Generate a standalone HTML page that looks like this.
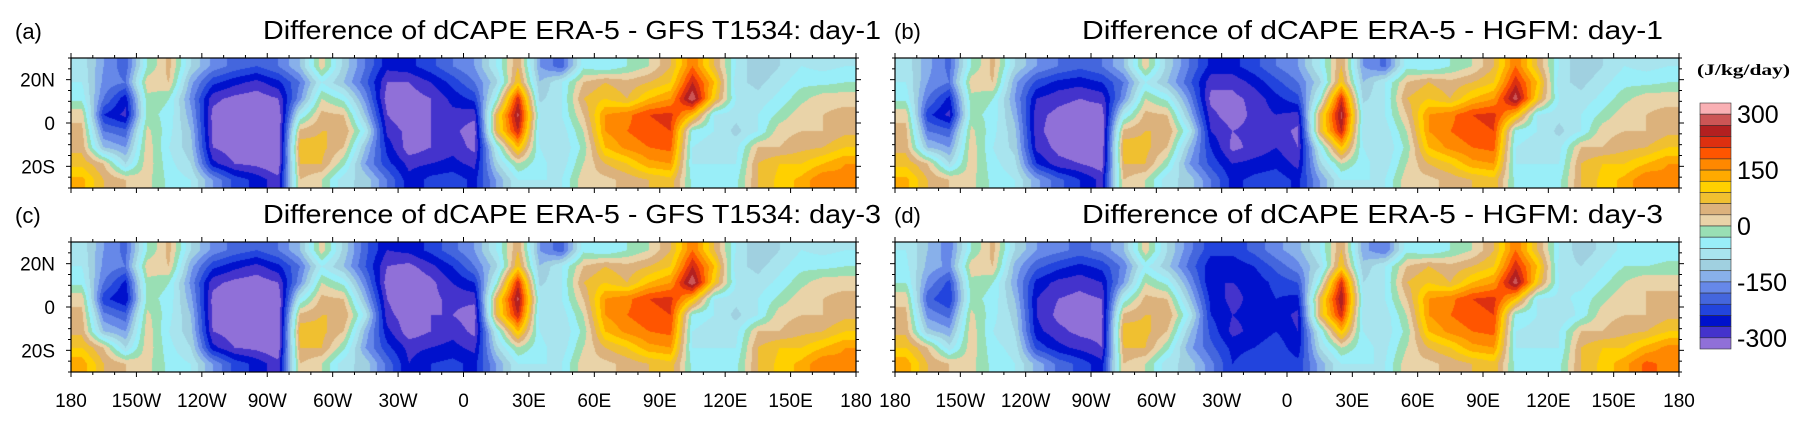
<!DOCTYPE html>
<html><head><meta charset="utf-8">
<style>
html,body{margin:0;padding:0;background:#fff;}
#root{position:relative;width:1811px;height:426px;overflow:hidden;font-family:"Liberation Sans",Arial,sans-serif;}
canvas{position:absolute;}
svg{position:absolute;left:0;top:0;}
</style></head>
<body>
<div id="root">
<canvas id="cA" width="785" height="130" style="left:71px;top:58px"></canvas>
<canvas id="cB" width="784" height="130" style="left:895px;top:58px"></canvas>
<canvas id="cC" width="785" height="130" style="left:71px;top:242px"></canvas>
<canvas id="cD" width="784" height="130" style="left:895px;top:242px"></canvas>
<svg id="ov" width="1811" height="426"></svg>
</div>
<script>
// colour levels (J/kg/day), from top (330) to bottom (-330) in 30 steps
const levelColors=["#f9b0b4","#cc5555","#b32020","#dd3010","#ff5500","#ff8800","#ffaa00","#ffd000","#f0c030","#dcb27c","#e9d3a8","#99dfb4","#99eef8","#a8e4ee","#a0d0e0","#88b0ea","#6688e8","#4466dd","#2244dd","#0011cc","#4433cc","#9070d8"];
const cbarLabels=["300","150","0","-150","-300"];
const cbarLabelValues=[300,150,0,-150,-300];
const lonTicks=["180","150W","120W","90W","60W","30W","0","30E","60E","90E","120E","150E","180"];
const latTicks=["20N","0","20S"];
const latTickValues=[20,0,-20];
// gridded values: 8 latitude rows (30N..30S), 36 longitude columns (180W..180E)
const gridA=[
[-70,-150,-200,-30,40,-90,-160,-190,-210,-180,-120,20,-100,-180,-260,-250,-220,-180,-150,-60,60,-150,-200,-40,-60,-30,0,60,180,60,-60,-120,-90,-60,-70,-60],
[-60,-160,-180,20,30,-140,-230,-260,-280,-250,-180,-60,-120,-200,-300,-300,-270,-230,-180,-100,90,-120,-60,30,60,40,60,90,240,120,-80,-100,-70,-40,-40,-30],
[-40,-180,-260,-10,-30,-160,-290,-310,-320,-300,-160,0,-40,-160,-320,-320,-300,-260,-230,-40,230,-100,-60,60,90,60,120,150,300,90,-60,-80,-50,-10,20,20],
[20,-240,-280,-20,-40,-140,-310,-330,-330,-330,-60,40,30,-120,-300,-330,-300,-280,-290,60,280,-60,-60,30,150,170,210,220,120,-60,-80,-60,-20,20,30,40],
[40,-180,-200,10,-50,-120,-310,-330,-340,-340,40,60,60,-60,-280,-310,-300,-290,-320,60,240,-80,-80,0,150,180,200,210,-40,-60,-100,-60,20,30,30,50],
[50,-120,-150,20,-60,-110,-300,-320,-330,-340,80,70,30,-120,-250,-320,-300,-280,-310,-60,120,-60,-90,-20,120,160,180,190,-60,-80,-70,30,30,50,60,90],
[80,30,-90,20,-50,-90,-260,-300,-310,-330,60,60,-20,-150,-230,-280,-270,-260,-280,-100,0,-50,-80,0,60,90,140,150,-60,-60,-60,60,90,90,120,150],
[130,60,30,10,-40,-60,-150,-220,-250,-290,30,0,-80,-100,-180,-260,-230,-220,-250,-150,-60,-60,-60,20,20,40,60,80,-40,-40,-40,60,100,130,180,160]];
const gridB=[
[-70,-140,-190,-30,40,-90,-150,-180,-200,-180,-120,20,-100,-180,-250,-250,-220,-180,-150,-60,60,-150,-190,-40,-60,-30,0,60,180,60,-60,-120,-90,-60,-70,-60],
[-60,-150,-180,20,30,-140,-220,-250,-260,-240,-180,-60,-120,-200,-290,-290,-260,-220,-180,-100,90,-120,-60,30,60,40,60,90,230,120,-80,-100,-70,-40,-40,-30],
[-40,-180,-250,-10,-30,-150,-270,-290,-300,-290,-160,0,-40,-160,-310,-310,-290,-250,-220,-40,230,-100,-60,60,90,60,120,150,290,90,-60,-80,-50,-10,20,20],
[20,-230,-280,-20,-40,-130,-290,-310,-320,-320,-60,40,30,-120,-290,-320,-290,-270,-280,60,280,-60,-60,30,150,170,210,220,120,-60,-80,-60,-20,20,30,40],
[40,-180,-200,10,-50,-110,-290,-320,-330,-330,40,60,60,-60,-270,-300,-290,-280,-310,60,240,-80,-80,0,150,180,200,210,-40,-60,-100,-60,20,30,30,50],
[50,-120,-150,20,-60,-100,-280,-310,-320,-330,80,70,30,-120,-240,-310,-290,-270,-300,-60,120,-60,-90,-20,120,160,180,190,-60,-80,-70,30,30,50,60,90],
[80,30,-90,20,-50,-80,-240,-290,-300,-320,60,60,-20,-150,-220,-270,-260,-250,-280,-100,0,-50,-80,0,60,90,140,150,-60,-60,-60,60,90,90,120,150],
[130,60,30,10,-40,-60,-140,-200,-240,-280,30,0,-80,-100,-180,-250,-230,-220,-250,-150,-60,-60,-60,20,20,40,60,80,-40,-40,-40,60,100,130,180,160]];
const gridC=[
[-70,-150,-190,-30,40,-90,-160,-190,-210,-180,-120,20,-100,-200,-270,-260,-230,-190,-150,-60,60,-150,-200,-40,-60,-30,0,60,180,60,-60,-120,-90,-60,-70,-60],
[-60,-160,-180,20,30,-140,-230,-260,-280,-250,-180,-60,-120,-210,-300,-310,-280,-240,-180,-100,90,-120,-60,30,60,40,60,90,240,120,-80,-100,-70,-40,-40,-30],
[-40,-180,-250,-10,-30,-160,-290,-310,-320,-300,-160,0,-40,-170,-320,-330,-310,-270,-240,-40,230,-100,-60,60,90,60,120,150,300,90,-60,-80,-50,-10,20,20],
[20,-230,-270,-20,-40,-140,-310,-330,-330,-330,-60,40,30,-130,-300,-330,-310,-290,-290,60,280,-60,-60,30,150,170,210,220,120,-60,-80,-60,-20,20,30,40],
[40,-170,-200,10,-50,-120,-310,-330,-340,-340,40,60,60,-70,-290,-320,-300,-300,-320,60,240,-80,-80,0,150,180,200,210,-40,-60,-100,-60,20,30,30,50],
[50,-120,-150,20,-60,-110,-300,-320,-330,-340,80,70,30,-130,-260,-320,-300,-280,-310,-60,120,-60,-90,-20,120,160,180,190,-60,-80,-70,30,30,50,60,90],
[90,30,-90,20,-50,-90,-260,-300,-310,-330,60,60,-20,-150,-230,-280,-270,-260,-280,-100,0,-50,-80,0,60,90,140,150,-60,-60,-60,60,90,90,120,150],
[140,60,30,10,-40,-60,-150,-220,-250,-290,30,0,-80,-100,-190,-270,-240,-230,-250,-150,-60,-60,-60,20,20,40,60,80,-40,-40,-40,60,100,130,180,160]];
const gridD=[
[-60,-120,-170,-30,40,-90,-150,-170,-190,-170,-120,20,-90,-170,-230,-230,-200,-160,-130,-60,60,-140,-180,-40,-60,-30,0,60,180,60,-60,-110,-80,-50,-60,-50],
[-50,-130,-160,20,30,-130,-200,-230,-250,-230,-170,-50,-110,-190,-260,-260,-240,-200,-160,-90,90,-110,-60,30,60,40,60,90,230,120,-70,-90,-60,-30,-30,-20],
[-30,-160,-220,-10,-30,-140,-250,-280,-290,-270,-150,0,-40,-150,-270,-270,-260,-230,-210,-30,230,-90,-60,60,90,60,120,150,290,90,-60,-70,-40,0,30,20],
[20,-200,-240,-20,-40,-120,-270,-300,-310,-300,-50,40,30,-110,-250,-280,-260,-240,-250,60,270,-60,-60,30,150,170,210,220,120,-60,-70,-50,-10,30,30,40],
[40,-160,-190,10,-50,-100,-270,-310,-320,-310,40,60,60,-60,-240,-270,-260,-250,-280,60,230,-80,-80,0,150,180,200,210,-40,-60,-90,-50,20,30,30,50],
[50,-110,-140,20,-60,-90,-260,-290,-310,-310,80,70,30,-110,-220,-280,-260,-240,-270,-60,120,-60,-80,-20,120,160,180,190,-60,-70,-60,30,30,50,60,90],
[90,30,-80,20,-50,-70,-220,-260,-280,-300,60,60,-20,-140,-200,-250,-240,-220,-260,-90,0,-50,-70,0,60,90,140,150,-60,-60,-60,60,90,90,130,160],
[140,60,30,10,-40,-60,-130,-190,-220,-260,30,0,-80,-100,-170,-240,-220,-210,-230,-140,-60,-60,-60,20,20,40,60,80,-40,-40,-40,60,100,140,190,170]];

function levelIndex(v){let k=Math.floor((330-v)/30);return Math.max(0,Math.min(levelColors.length-1,k));}
function hexToRgb(h){return [parseInt(h.substr(1,2),16),parseInt(h.substr(3,2),16),parseInt(h.substr(5,2),16)];}
const rgb=levelColors.map(hexToRgb);
function sample(grid,gx,gy){
  const nr=grid.length,nc=grid[0].length;
  gx=Math.max(0,Math.min(nc-1,gx));gy=Math.max(0,Math.min(nr-1,gy));
  const x0=Math.floor(gx),y0=Math.floor(gy),x1=Math.min(nc-1,x0+1),y1=Math.min(nr-1,y0+1);
  const fx=gx-x0,fy=gy-y0;
  return grid[y0][x0]*(1-fx)*(1-fy)+grid[y0][x1]*fx*(1-fy)+grid[y1][x0]*(1-fx)*fy+grid[y1][x1]*fx*fy;
}
function drawField(id,grid){
  const c=document.getElementById(id),ctx=c.getContext('2d');
  const W=c.width,H=c.height,img=ctx.createImageData(W,H);
  const nc=grid[0].length,nr=grid.length;
  for(let y=0;y<H;y++){for(let x=0;x<W;x++){
    const gx=(x+0.5)/W*nc-0.5,gy=(y+0.5)/H*nr-0.5;
    const v=sample(grid,gx,gy);const col=rgb[levelIndex(v)];
    const i=(y*W+x)*4;img.data[i]=col[0];img.data[i+1]=col[1];img.data[i+2]=col[2];img.data[i+3]=255;}}
  ctx.putImageData(img,0,0);
}
drawField('cA',gridA);drawField('cB',gridB);drawField('cC',gridC);drawField('cD',gridD);

const NS='http://www.w3.org/2000/svg';
const ov=document.getElementById('ov');
function mk(tag,attrs,parent){const e=document.createElementNS(NS,tag);for(const k in attrs)e.setAttribute(k,attrs[k]);(parent||ov).appendChild(e);return e;}
const panels=[
 {x:71,y:58,w:785,h:130,lab:"(a)",title:"Difference of dCAPE ERA-5 - GFS T1534: day-1",tx:263,tl:618,xl:false},
 {x:895,y:58,w:784,h:130,lab:"(b)",title:"Difference of dCAPE ERA-5 - HGFM: day-1",tx:1082,tl:581,xl:false},
 {x:71,y:242,w:785,h:130,lab:"(c)",title:"Difference of dCAPE ERA-5 - GFS T1534: day-3",tx:263,tl:618,xl:true},
 {x:895,y:242,w:784,h:130,lab:"(d)",title:"Difference of dCAPE ERA-5 - HGFM: day-3",tx:1082,tl:581,xl:true}];
const pnames=['a','b','c','d'];
panels.forEach((p,pi)=>{
  const g=mk('g',{});
  
  
  const lonX=lon=>p.x+(lon+180)/360*p.w;
  const latY=lat=>p.y+(30-lat)/60*p.h;
  const fr=mk('rect',{x:p.x,y:p.y,width:p.w,height:p.h,fill:'none',stroke:'#000','stroke-width':1.2},g);
  
  for(let lon=-180;lon<=180;lon+=10){
    const X=lonX(lon),len=(lon%30===0)?5:3;
    mk('line',{x1:X,x2:X,y1:p.y,y2:p.y-len,stroke:'#000','stroke-width':1},g);
    mk('line',{x1:X,x2:X,y1:p.y+p.h,y2:p.y+p.h+len,stroke:'#000','stroke-width':1},g);
  }
  for(let lat=-30;lat<=30;lat+=5){
    const Y=latY(lat),len=(lat%20===0)?5:3;
    mk('line',{x1:p.x,x2:p.x-len,y1:Y,y2:Y,stroke:'#000','stroke-width':1},g);
    mk('line',{x1:p.x+p.w,x2:p.x+p.w+len,y1:Y,y2:Y,stroke:'#000','stroke-width':1},g);
  }
  if(pi%2===0){
    latTicks.forEach((t,i)=>{const e=mk('text',{x:55,y:latY(latTickValues[i])+7,'text-anchor':'end','font-size':19,fill:'#000'},g);e.textContent=t;
      });
  }
  if(p.xl){
    lonTicks.forEach((t,i)=>{const e=mk('text',{x:lonX(-180+30*i),y:407,'text-anchor':'middle','font-size':19,fill:'#000'},g);e.textContent=t;
      });
  }
  const lb=mk('text',{x:pi%2===0?15:894,y:p.y-19,'font-size':22,fill:'#000'},g);lb.textContent=p.lab;
  
  const tt=mk('text',{x:p.tx,y:p.y-19,'font-size':26,fill:'#000',textLength:p.tl,lengthAdjust:'spacingAndGlyphs'},g);tt.textContent=p.title;
  
});
// colorbar
const cb=mk('g',{});


const cbX=1700,cbW=31,cbTop=103,cbBot=349,bh=(cbBot-cbTop)/levelColors.length;
levelColors.forEach((c,i)=>{const r=mk('rect',{x:cbX,y:cbTop+i*bh,width:cbW,height:bh,fill:c,stroke:'#333','stroke-width':0.6},cb);
  });
const cbY=v=>cbTop+(330-v)/30*bh;
cbarLabels.forEach((t,i)=>{const e=mk('text',{x:1737,y:cbY(cbarLabelValues[i])+9,'font-size':25,fill:'#000'},cb);e.textContent=t;
  });
const ut=mk('text',{x:1697,y:75,'font-size':16,'font-weight':'bold','font-family':'"Liberation Serif",serif',fill:'#000',textLength:93,lengthAdjust:'spacingAndGlyphs'},cb);
ut.textContent='(J/kg/day)';

</script>
</body></html>
